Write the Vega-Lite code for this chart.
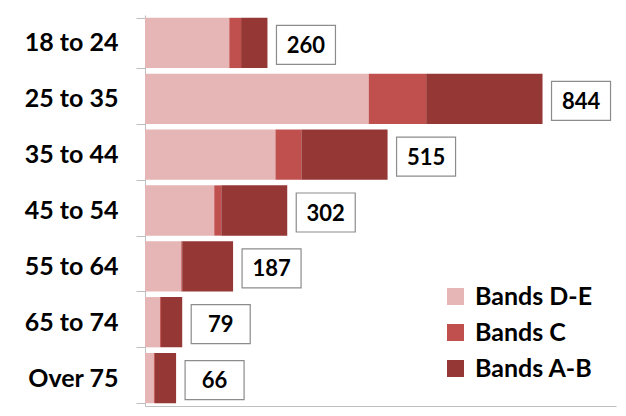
{
  "$schema": "https://vega.github.io/schema/vega-lite/v6.json",
  "width": 471,
  "height": 391,
  "autosize": "none",
  "padding": {"left": 145, "top": 15, "right": 10, "bottom": 10},
  "config": {"view": {"stroke": null}, "font": "Lato"},
  "datasets": {
    "bars": [
      {"age": "18 to 24", "band": "Bands D-E", "ord": 1, "value": 179},
      {"age": "18 to 24", "band": "Bands C", "ord": 2, "value": 25},
      {"age": "18 to 24", "band": "Bands A-B", "ord": 3, "value": 56},
      {"age": "25 to 35", "band": "Bands D-E", "ord": 1, "value": 475},
      {"age": "25 to 35", "band": "Bands C", "ord": 2, "value": 122},
      {"age": "25 to 35", "band": "Bands A-B", "ord": 3, "value": 247},
      {"age": "35 to 44", "band": "Bands D-E", "ord": 1, "value": 277},
      {"age": "35 to 44", "band": "Bands C", "ord": 2, "value": 55},
      {"age": "35 to 44", "band": "Bands A-B", "ord": 3, "value": 183},
      {"age": "45 to 54", "band": "Bands D-E", "ord": 1, "value": 147},
      {"age": "45 to 54", "band": "Bands C", "ord": 2, "value": 15},
      {"age": "45 to 54", "band": "Bands A-B", "ord": 3, "value": 140},
      {"age": "55 to 64", "band": "Bands D-E", "ord": 1, "value": 77},
      {"age": "55 to 64", "band": "Bands C", "ord": 2, "value": 2},
      {"age": "55 to 64", "band": "Bands A-B", "ord": 3, "value": 108},
      {"age": "65 to 74", "band": "Bands D-E", "ord": 1, "value": 32},
      {"age": "65 to 74", "band": "Bands C", "ord": 2, "value": 2},
      {"age": "65 to 74", "band": "Bands A-B", "ord": 3, "value": 45},
      {"age": "Over 75", "band": "Bands D-E", "ord": 1, "value": 19},
      {"age": "Over 75", "band": "Bands C", "ord": 2, "value": 2},
      {"age": "Over 75", "band": "Bands A-B", "ord": 3, "value": 45}
    ],
    "totals": [
      {"age": "18 to 24", "total": 260},
      {"age": "25 to 35", "total": 844},
      {"age": "35 to 44", "total": 515},
      {"age": "45 to 54", "total": 302},
      {"age": "55 to 64", "total": 187},
      {"age": "65 to 74", "total": 79},
      {"age": "Over 75", "total": 66}
    ]
  },
  "encoding": {
    "y": {
      "field": "age",
      "type": "nominal",
      "sort": ["18 to 24", "25 to 35", "35 to 44", "45 to 54", "55 to 64", "65 to 74", "Over 75"],
      "scale": {"paddingInner": 0.1, "paddingOuter": 0.05},
      "axis": {
        "title": null,
        "domainColor": "#BFBFBF",
        "tickColor": "#BFBFBF",
        "tickBand": "extent",
        "tickSize": 9,
        "labelPadding": 18,
        "labelFont": "Lato",
        "labelFontSize": 25,
        "labelFontWeight": "bold",
        "labelColor": "#000000",
        "grid": false
      }
    }
  },
  "layer": [
    {
      "data": {"name": "bars"},
      "mark": {"type": "bar"},
      "encoding": {
        "x": {
          "field": "value",
          "type": "quantitative",
          "aggregate": "sum",
          "stack": "zero",
          "scale": {"domain": [0, 1000], "nice": false},
          "axis": {"title": null, "labels": false, "ticks": false, "grid": false, "domainColor": "#BFBFBF"}
        },
        "color": {
          "field": "band",
          "type": "nominal",
          "scale": {"domain": ["Bands D-E", "Bands C", "Bands A-B"], "range": ["#E6B5B6", "#C0504D", "#953735"]},
          "legend": {
            "title": null,
            "orient": "none",
            "legendX": 298,
            "legendY": 269,
            "padding": 0,
            "symbolType": "square",
            "symbolSize": 289,
            "symbolStrokeWidth": 0,
            "labelFont": "Lato",
            "labelFontSize": 25,
            "labelFontWeight": "bold",
            "labelColor": "#000000",
            "labelOffset": 7,
            "rowPadding": 10
          }
        },
        "order": {"field": "ord", "type": "quantitative"}
      }
    },
    {
      "data": {"name": "totals"},
      "mark": {
        "type": "point",
        "shape": "M-1,-0.661H1V0.661H-1Z",
        "size": 3481,
        "filled": true,
        "fill": "#FFFFFF",
        "stroke": "#8C8C8C",
        "strokeWidth": 1.2,
        "opacity": 1,
        "xOffset": 38.5,
        "yOffset": 2
      },
      "encoding": {
        "x": {"field": "total", "type": "quantitative"}
      }
    },
    {
      "data": {"name": "totals"},
      "mark": {
        "type": "text",
        "font": "Lato",
        "fontSize": 22,
        "fontWeight": "bold",
        "color": "#000000",
        "align": "center",
        "baseline": "middle",
        "xOffset": 38.5,
        "yOffset": 3
      },
      "encoding": {
        "x": {"field": "total", "type": "quantitative"},
        "text": {"field": "total", "type": "quantitative"}
      }
    }
  ]
}
